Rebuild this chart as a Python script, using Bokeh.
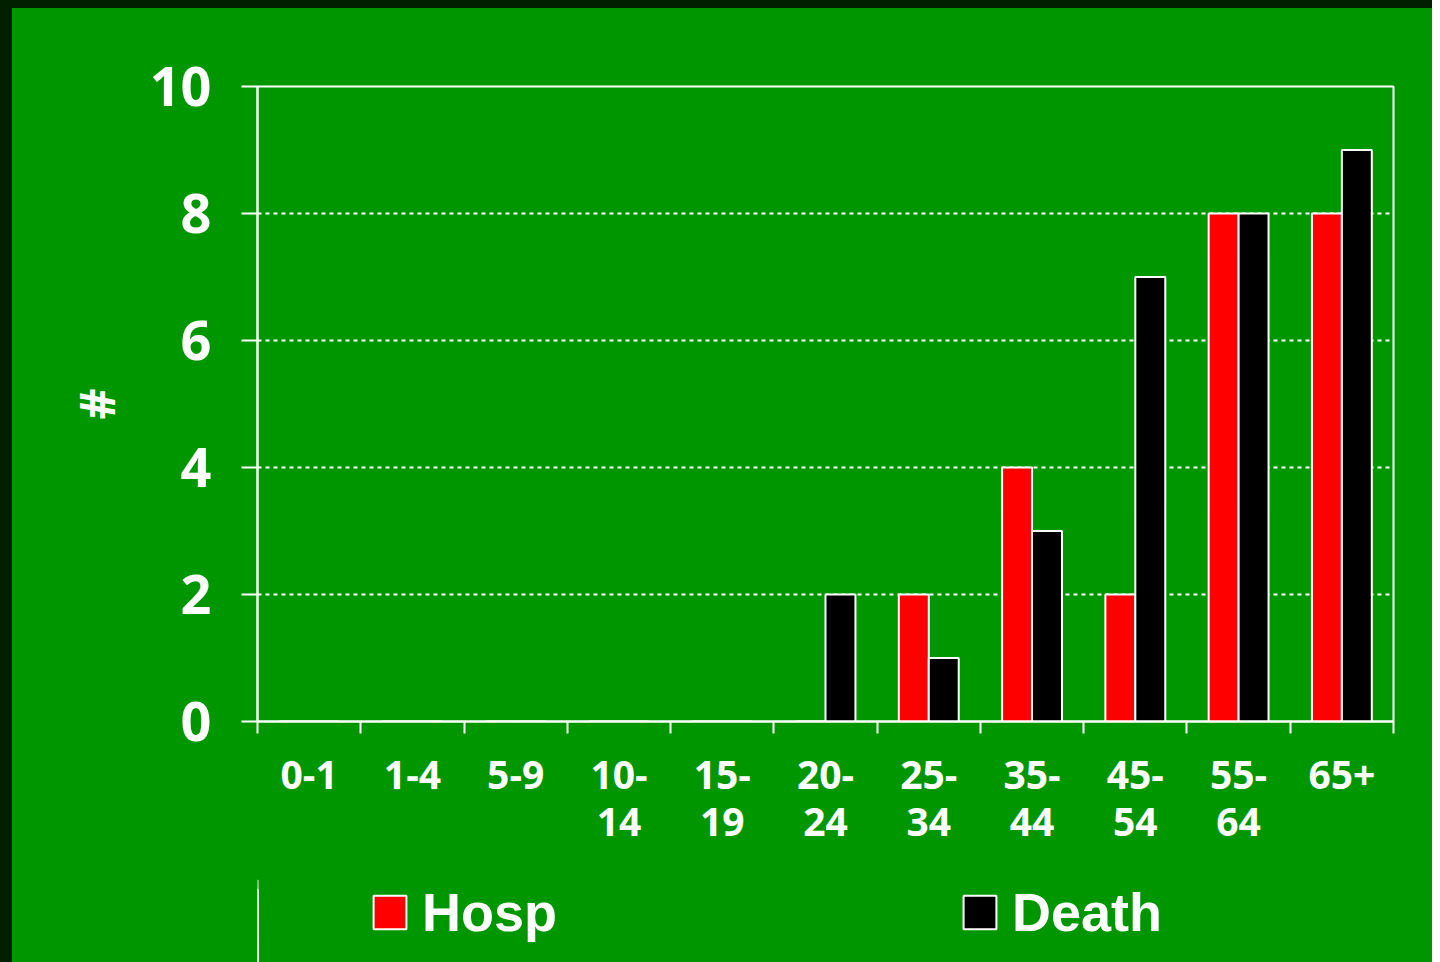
from bokeh.plotting import figure
from bokeh.layouts import column
from bokeh.models import Range1d, FixedTicker, Legend, LegendItem, ColumnDataSource
from bokeh.transform import dodge
from bokeh.embed import file_html
from bokeh.resources import INLINE

categories = ["0-1", "1-4", "5-9", "10-\n14", "15-\n19", "20-\n24", "25-\n34",
              "35-\n44", "45-\n54", "55-\n64", "65+"]
hosp = [0, 0, 0, 0, 0, 0, 2, 4, 2, 8, 8]
death = [0, 0, 0, 0, 0, 2, 1, 3, 7, 8, 9]
series = ["Hosp", "Death"]
colors = ["#ff0000", "#000000"]
y_ticks = [0, 2, 4, 6, 8, 10]

GREEN = "#009600"
DARK = "#002000"

centers = [i + 0.5 for i in range(len(categories))]
src = ColumnDataSource(dict(x=centers, hosp=hosp, death=death, cat=categories))

p = figure(width=1432, height=871, output_backend="svg", toolbar_location=None,
           x_range=Range1d(0, len(categories)), y_range=Range1d(0, 10),
           min_border_left=245, min_border_right=51, min_border_top=78,
           min_border_bottom=158)
p.styles = {"border-top": "8px solid %s" % DARK, "border-left": "12px solid %s" % DARK,
            "background-color": GREEN}
p.background_fill_color = GREEN
p.border_fill_color = GREEN
p.outline_line_color = "white"
p.outline_line_width = 2

p.vbar(x=dodge("x", -0.145, range=p.x_range), top="hosp", width=0.29, source=src,
       fill_color=colors[0], line_color="white", line_width=2)
p.vbar(x=dodge("x", 0.145, range=p.x_range), top="death", width=0.29, source=src,
       fill_color=colors[1], line_color="white", line_width=2)

# x axis
xa = p.xaxis[0]
xa.ticker = FixedTicker(ticks=centers, minor_ticks=list(range(len(categories) + 1)))
xa.major_label_overrides = {c: lab for c, lab in zip(centers, categories)}
xa.major_tick_line_color = None
xa.major_tick_out = 0
xa.major_tick_in = 0
xa.minor_tick_line_color = "white"
xa.minor_tick_line_width = 2
xa.minor_tick_out = 12
xa.minor_tick_in = 0
xa.axis_line_color = "white"
xa.axis_line_width = 2
xa.major_label_text_color = "white"
xa.major_label_text_font = "Open Sans"
xa.major_label_text_font_style = "bold"
xa.major_label_text_font_size = "39px"
xa.major_label_text_line_height = 0.9
xa.major_label_standoff = 13

# y axis
ya = p.yaxis[0]
ya.ticker = FixedTicker(ticks=y_ticks)
ya.minor_tick_line_color = None
ya.major_tick_line_color = "white"
ya.major_tick_line_width = 2
ya.major_tick_out = 16
ya.major_tick_in = 0
ya.axis_line_color = "white"
ya.axis_line_width = 2
ya.major_label_text_color = "white"
ya.major_label_text_font = "Open Sans"
ya.major_label_text_font_style = "bold"
ya.major_label_text_font_size = "54px"
ya.major_label_standoff = 30
ya.axis_label = "#"
ya.axis_label_text_color = "white"
ya.axis_label_text_font = "Open Sans"
ya.axis_label_text_font_style = "bold"
ya.axis_label_text_font_size = "48px"
ya.axis_label_standoff = 18

p.xgrid.grid_line_color = None
p.ygrid.grid_line_color = "white"
p.ygrid.grid_line_dash = "4 4"
p.ygrid.grid_line_width = 2

# legend strip below the chart (its own renderers show the same data, scrolled out of view)
lg = figure(width=1432, height=91, output_backend="svg", toolbar_location=None,
            x_range=Range1d(100, 101), y_range=Range1d(0, 10),
            min_border_left=245, min_border_right=51, min_border_top=0,
            min_border_bottom=0)
lg.styles = {"border-left": "12px solid %s" % DARK, "background-color": GREEN}
lg.background_fill_color = GREEN
lg.background_fill_alpha = 0
lg.border_fill_color = GREEN
lg.outline_line_color = None
lg.axis.visible = False
lg.grid.grid_line_color = None
lr1 = lg.vbar(x=dodge("x", -0.145, range=lg.x_range), top="hosp", width=0.29, source=src,
              fill_color=colors[0], line_color="white", line_width=2)
lr2 = lg.vbar(x=dodge("x", 0.145, range=lg.x_range), top="death", width=0.29, source=src,
              fill_color=colors[1], line_color="white", line_width=2)

legend = Legend(items=[LegendItem(label=series[0], renderers=[lr1]),
                       LegendItem(label=series[1], renderers=[lr2])],
                orientation="horizontal", location=(112, 19))
legend.background_fill_alpha = 0
legend.border_line_color = None
legend.glyph_width = 41
legend.glyph_height = 42
legend.label_standoff = 12
legend.label_width = 200
legend.spacing = 337
legend.padding = 0
legend.margin = 0
legend.label_text_color = "white"
legend.label_text_font = "Liberation Sans"
legend.label_text_font_style = "bold"
legend.label_text_font_size = "54px"
lg.add_layout(legend, "center")

layout = column(p, lg, spacing=0)
open("out.html", "w").write(file_html(layout, INLINE))
